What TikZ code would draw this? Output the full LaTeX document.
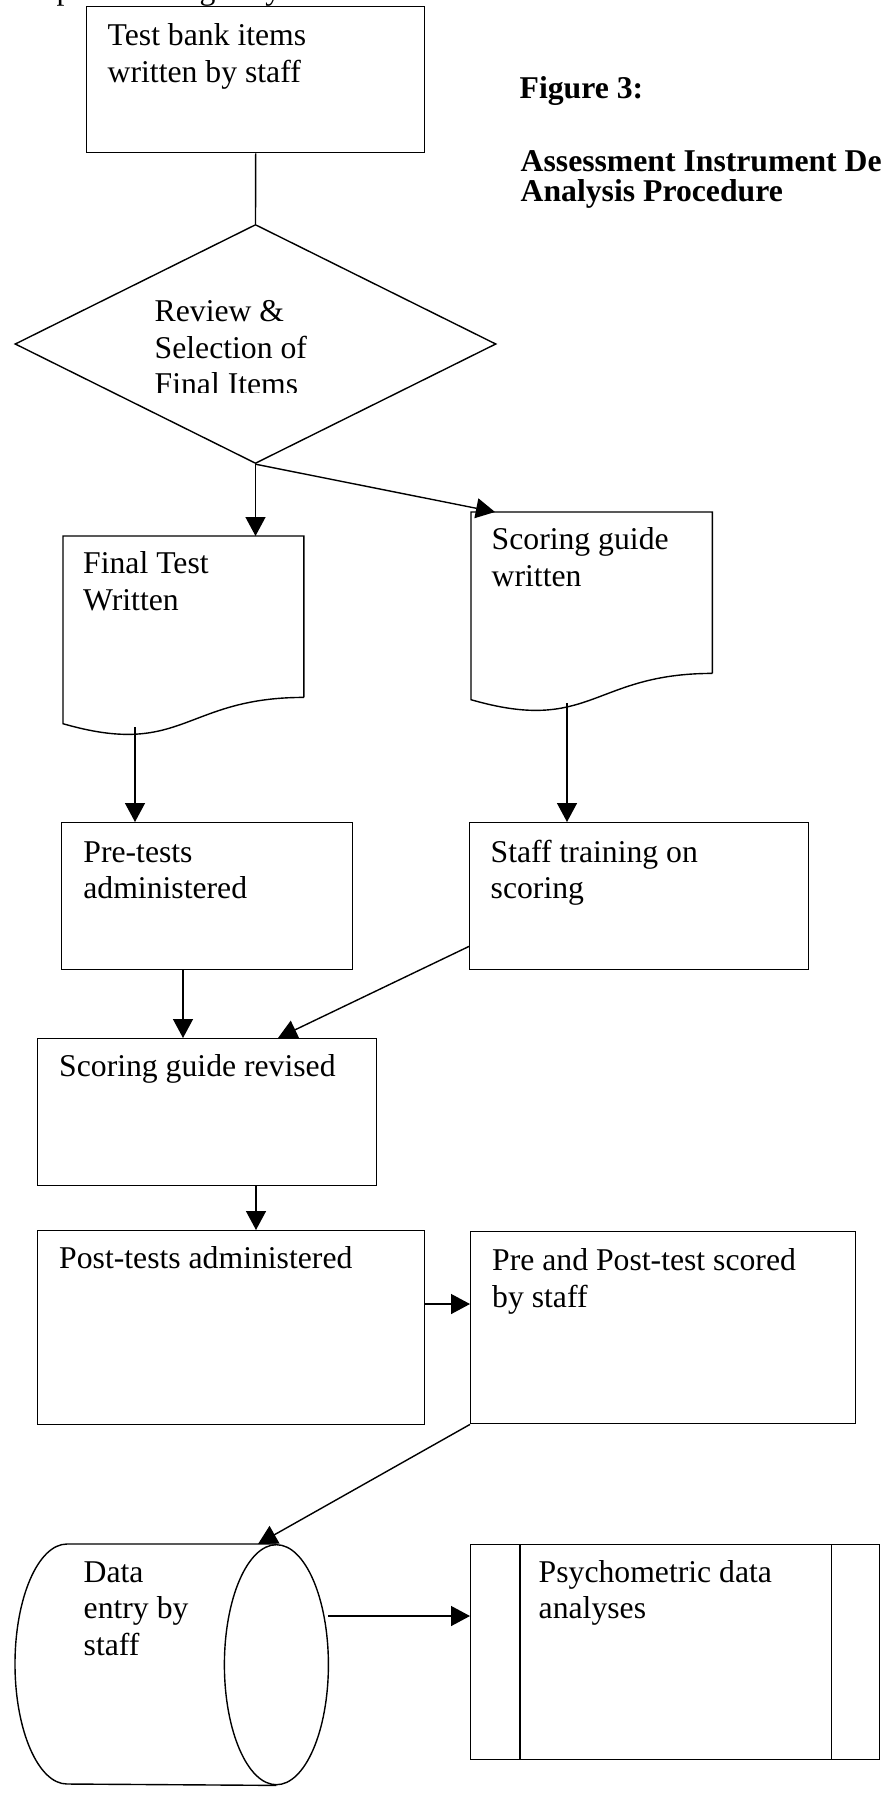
\documentclass[tikz,border=0pt]{standalone}
\usepackage{fontspec}
\setmainfont{Liberation Serif}
\usetikzlibrary{shapes.geometric,arrows.meta,positioning}

\newcommand{\flowfont}{\fontsize{31.7}{36.5}\selectfont}

\tikzset{
    box/.style={draw, anchor=north west, inner sep=0pt},
    docbody/.style={anchor=north west, inner sep=0pt, minimum width=#1, minimum height=160pt},
    txt/.style={anchor=north west, inner sep=0pt, align=left},
    arr/.style={-{Triangle[length=19pt,width=20pt]}},
}

\begin{document}
\begin{tikzpicture}[x=1pt, y=-1pt, line width=1.4pt, font=\flowfont]
    % y grows downward, one unit per pixel
    \useasboundingbox (0,0) rectangle (882,1796);

    % line of text running off the top edge
    \node[anchor=base west, inner sep=0pt] (cut) at (56,-1) {p\hspace{127pt}g\hspace{50pt}y};

    % title
    \node[anchor=base west, inner sep=0pt] (fig) at (519,98) {\textbf{Figure 3:}};
    \node[anchor=base west, inner sep=0pt] (ttla) at (520,171) {\textbf{Assessment Instrument De}};
    \node[anchor=base west, inner sep=0pt] (ttlb) at (520,201) {\textbf{Analysis Procedure}};

    % item bank and review
    \node[box, minimum width=338pt, minimum height=146pt] (bank) at (86,6) {};
    \node[txt] (banktxt) at ([shift={(21,13.5)}]bank.north west) {\strut Test bank items\\written by staff};

    \node[diamond, draw, minimum width=481pt, minimum height=239pt, inner sep=0pt] (review) at (255.5,344) {};
    \begin{scope}
        \clip (140,280) rectangle (420,392);
        \node[txt] (reviewtxt) at (154,295.5) {\strut Review \&\\Selection of\\Final Items};
    \end{scope}

    % the two documents
    \node[docbody=239.5pt] (final) at (63,536) {};
    \node[docbody=240pt] (sguide) at (471,512) {};
    \foreach \d in {final,sguide}
        \draw (\d.south east) -- (\d.north east) -- (\d.north west) -- ([yshift=-26.3pt]\d.south west)
            .. controls ([shift={(120,61)}]\d.south west) and ([xshift=-120pt]\d.south east) .. (\d.south east);
    \node[txt] (finaltxt) at ([shift={(19.5,11.5)}]final.north west) {\strut Final Test\\Written};
    \node[txt] (sguidetxt) at ([shift={(20,11.5)}]sguide.north west) {\strut Scoring guide\\written};

    % boxes
    \node[box, minimum width=291pt, minimum height=147pt] (pre) at (61,822) {};
    \node[txt] (pretxt) at ([shift={(21.7,14)}]pre.north west) {\strut Pre-tests\\administered};
    \node[box, minimum width=339pt, minimum height=147pt] (staff) at (469,822) {};
    \node[txt] (stafftxt) at ([shift={(21,14)}]staff.north west) {\strut Staff training on\\scoring};

    \node[box, minimum width=339pt, minimum height=146.5pt] (revised) at (37,1038) {};
    \node[txt] (revisedtxt) at ([shift={(21.5,12.5)}]revised.north west) {\strut Scoring guide revised};

    \node[box, minimum width=386.5pt, minimum height=194pt] (post) at (37,1230) {};
    \node[txt] (posttxt) at ([shift={(21.5,12.5)}]post.north west) {\strut Post-tests administered};
    \node[box, minimum width=385pt, minimum height=192pt] (prepost) at (470,1231) {};
    \node[txt] (preposttxt) at ([shift={(21.5,13.5)}]prepost.north west) {\strut Pre and Post-test scored\\by staff};

    % data entry cylinder
    \node[anchor=north west, inner sep=0pt, minimum width=208pt, minimum height=240pt] (entry) at (67,1544) {};
    \draw (entry.north east) -- (entry.north west) arc[start angle=270, end angle=90, x radius=52, y radius=120] -- (entry.south east);
    \draw (entry.east) ellipse [x radius=52, y radius=120];
    \node[txt] (entrytxt) at ([shift={(16,12)}]entry.north west) {\strut Data\\entry by\\staff};

    % analyses
    \node[box, minimum width=408.5pt, minimum height=214.5pt] (psych) at (470,1544) {};
    \draw ([xshift=50pt]psych.north west) -- ([xshift=50pt]psych.south west);
    \draw ([xshift=-48.5pt]psych.north east) -- ([xshift=-48.5pt]psych.south east);
    \node[txt] (psychtxt) at ([shift={(68,12)}]psych.north west) {\strut Psychometric data\\analyses};

    % connectors
    \coordinate (finalout) at ([shift={(72,191)}]final.north west);
    \coordinate (sguideout) at ([shift={(96,191)}]sguide.north west);
    \coordinate (preout) at ([xshift=122pt]pre.south west);
    \coordinate (revout) at ([xshift=219pt]revised.south west);
    \coordinate (postout) at ([yshift=-74pt]post.north east);
    \coordinate (entryout) at ([shift={(52,72)}]entry.north east);

    \draw (bank.south) -- (review.north);
    \draw[arr] (review.south) -- (review.south |- final.north);
    \draw[arr] (review.south) -- ([xshift=24pt]sguide.north west);
    \draw[arr] (finalout) -- (finalout |- pre.north);
    \draw[arr] (sguideout) -- (sguideout |- staff.north);
    \draw[arr] (preout) -- (preout |- revised.north);
    \draw[arr] ([yshift=24pt]staff.south west) -- ([xshift=241pt]revised.north west);
    \draw[arr] (revout) -- (revout |- post.north);
    \draw[arr] (postout) -- (postout -| prepost.west);
    \draw[arr] (prepost.south west) -- ([xshift=191pt]entry.north west);
    \draw[arr] (entryout) -- (entryout -| psych.west);
\end{tikzpicture}
\end{document}
